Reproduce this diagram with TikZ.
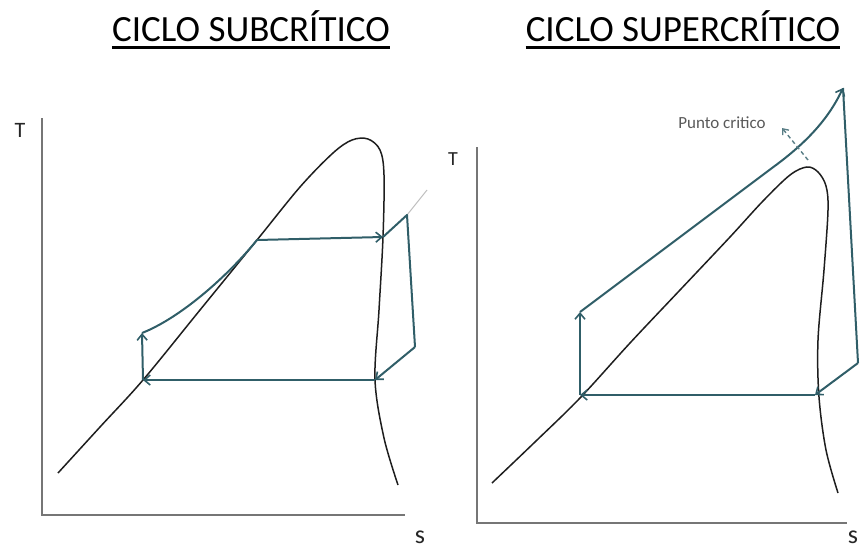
\documentclass[tikz,border=0pt]{standalone}
\usepackage{fontspec}
\setmainfont{Carlito}
\usetikzlibrary{arrows.meta}
\definecolor{cyc}{RGB}{48,94,104}
\definecolor{axg}{RGB}{118,118,118}
\definecolor{crv}{RGB}{30,30,30}
\tikzset{
  axisline/.style={draw=axg,line width=1.6pt},
  dome/.style={draw=crv,line width=1.5pt},
  cycle/.style={draw=cyc,line width=2pt,line join=round},
  tip/.style={-{Straight Barb[length=6pt,width=10pt,line width=1.6pt]}},
  title/.style={font=\fontsize{37}{37}\selectfont,anchor=base,inner sep=0pt},
  axlabel/.style={font=\fontsize{22}{22}\selectfont,anchor=base,inner sep=0pt,text=black!85},
}
\begin{document}
\begin{tikzpicture}[x=1pt,y=-1pt]
\useasboundingbox (0,0) rectangle (861,549);
% titles
\node[title] (t1) at (251,41) {CICLO SUBCRÍTICO};
\node[title] (t2) at (683,41) {CICLO SUPERCRÍTICO};
\draw[line width=2.6pt] ([yshift=-6.5pt]t1.base west) -- ([yshift=-6.5pt]t1.base east);
\draw[line width=2.6pt] ([yshift=-6.5pt]t2.base west) -- ([yshift=-6.5pt]t2.base east);

% ---------- left panel ----------
\coordinate (lo1) at (42,515);
\draw[axisline] (42,118) -- (lo1) -- (405,515);
\node[axlabel] (lT) at (20,137) {T};
\node[axlabel,font=\fontsize{26}{26}\selectfont] (ls) at (420,543) {s};
\draw[dome] plot[smooth,tension=0.55] coordinates {(58,473) (100,427) (143,380) (200,310) (257,240) (300,187) (333,153) (352,140) (368,139) (380,150) (384,175) (383,237) (379,310) (375,380) (384,438) (398,485)};
\coordinate (A) at (143,380);
\coordinate (B) at (142,333);
\coordinate (C) at (257,240);
\coordinate (D) at (383,237);
\coordinate (E) at (407,215);
\coordinate (F) at (415,347);
\coordinate (G) at (375,380);
\draw[draw=black!25,line width=1pt] (E) -- (427,190);
\draw[cycle,tip] (C) -- (D);
\draw[cycle] (D) -- (E) -- (F);
\draw[cycle,tip] (F) -- (G);
\draw[cycle,tip] (G) -- (A);
\draw[cycle,tip] (A) -- (B);
\draw[cycle] (B) .. controls (180,318) and (227,277) .. (C);

% ---------- right panel ----------
\coordinate (ro1) at (477,523);
\draw[axisline] (477,147) -- (ro1) -- (847,523);
\node[axlabel,font=\fontsize{20}{20}\selectfont] (rT) at (453,165) {T};
\node[axlabel,font=\fontsize{26}{26}\selectfont] (rs) at (853,543) {s};
\draw[dome] plot[smooth,tension=0.55] coordinates {(492,483) (536,441) (580,398) (630,343) (680,290) (730,237) (763,201) (790,175) (807,167) (818,172) (826,186) (828,210) (824,270) (818,340) (819,397) (826,450) (838,493)};
\coordinate (P) at (580,395);
\coordinate (Q) at (580,312);
\coordinate (S) at (843,88);
\coordinate (U) at (858,363);
\coordinate (V) at (815,395);
\draw[cycle,tip] (P) -- (Q);
\draw[cycle,tip] (Q) -- (772,168) .. controls (805,144) and (828,120) .. (S);
\draw[cycle] (S) -- (U);
\draw[cycle,tip] (U) -- (V);
\draw[cycle,tip] (V) -- (P);
\coordinate (cp) at (808,160);
\coordinate (cq) at (782,128);
\draw[draw=cyc!80,line width=1.4pt,dash pattern=on 4pt off 3pt,-{Straight Barb[length=5pt,width=8pt,line width=1.3pt]}] (cp) -- (cq);
\node[font=\fontsize{17}{17}\selectfont,anchor=base,inner sep=0pt,text=black!65] (pc) at (722,128) {Punto critico};
\end{tikzpicture}
\end{document}
